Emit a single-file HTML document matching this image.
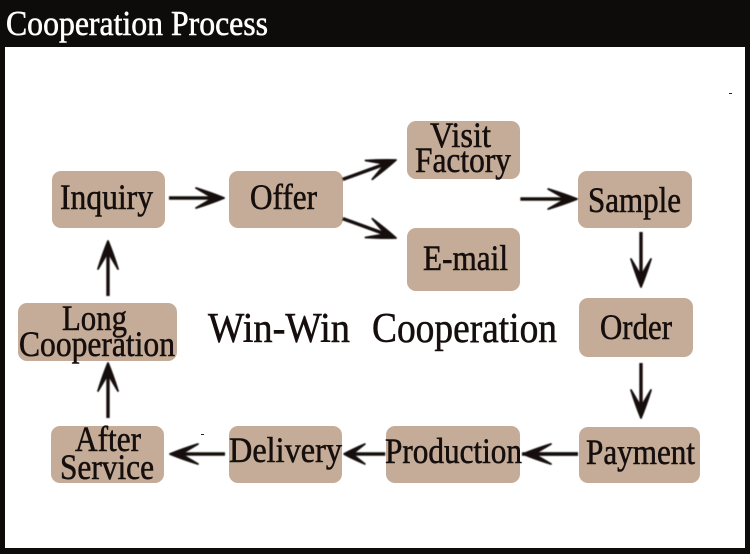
<!DOCTYPE html>
<html><head><meta charset="utf-8"><style>
html,body{margin:0;padding:0;background:#0e0c0a;width:750px;height:554px;overflow:hidden}
svg{display:block}
text{font-family:"Liberation Serif",serif;fill:#14100c;stroke:#14100c;stroke-width:.55px}
</style></head><body>
<svg width="750" height="554" viewBox="0 0 750 554" xmlns="http://www.w3.org/2000/svg">
<defs>
<g id="h"><path d="M-28,-10 Q-12,-5 0,0 Q-12,5 -28,10 Q-18,4 -11,0 Q-18,-4 -28,-10Z" fill="#14100c" stroke="#14100c" stroke-width="1.8" stroke-linejoin="round"/><path d="M-55,0H-6" stroke="#14100c" stroke-width="3.4"/></g>
<filter id="b" x="-5%" y="-5%" width="110%" height="110%"><feGaussianBlur stdDeviation="0.45"/></filter>
<filter id="t" x="-5%" y="-5%" width="110%" height="110%"><feGaussianBlur stdDeviation="0.3"/></filter>
</defs>
<rect width="750" height="554" fill="#0e0c0a"/>
<rect x="5" y="47" width="740" height="501" fill="#fff"/>
<g filter="url(#t)"><text x="6" y="35" font-size="35" textLength="262" lengthAdjust="spacingAndGlyphs" style="fill:#fff;stroke:#fff">Cooperation Process</text></g>
<g fill="#c4ac98">
<rect x="52" y="171" width="113" height="57" rx="9"/>
<rect x="229" y="171" width="114" height="57" rx="9"/>
<rect x="407" y="121" width="113" height="58" rx="9"/>
<rect x="407" y="228" width="113" height="63" rx="9"/>
<rect x="578" y="171" width="114" height="57" rx="9"/>
<rect x="579" y="298" width="114" height="59" rx="9"/>
<rect x="579" y="427" width="121" height="56" rx="9"/>
<rect x="386" y="426" width="134" height="57" rx="9"/>
<rect x="229" y="426" width="113" height="57" rx="9"/>
<rect x="51" y="426" width="113" height="57" rx="9"/>
<rect x="18" y="303" width="159" height="58" rx="9"/>
</g>
<g filter="url(#b)">
<use href="#h" transform="translate(224,198)"/>
<use href="#h" transform="translate(396,160) rotate(-20) scale(1.03,1)"/>
<use href="#h" transform="translate(396,238) rotate(20) scale(1.03,1)"/>
<use href="#h" transform="translate(577,199) scale(1.03,1)"/>
<use href="#h" transform="translate(641,287) rotate(90)"/>
<use href="#h" transform="translate(641,418) rotate(90)"/>
<use href="#h" transform="translate(523,454) rotate(180)"/>
<path d="M522,454H578" stroke="#14100c" stroke-width="3.4"/>
<use href="#h" transform="translate(344,454) rotate(180) scale(.75,1)"/>
<use href="#h" transform="translate(170,454) rotate(180)"/>
<use href="#h" transform="translate(108,363) rotate(-90)"/>
<use href="#h" transform="translate(108,241) rotate(-90)"/>
</g>
<g filter="url(#t)">
<g font-size="36">
<text x="60" y="209" textLength="93" lengthAdjust="spacingAndGlyphs">Inquiry</text>
<text x="250" y="209" textLength="67" lengthAdjust="spacingAndGlyphs">Offer</text>
<text x="430" y="147" textLength="61" lengthAdjust="spacingAndGlyphs">Visit</text>
<text x="415" y="172" textLength="96" lengthAdjust="spacingAndGlyphs">Factory</text>
<text x="423" y="270" textLength="85" lengthAdjust="spacingAndGlyphs">E-mail</text>
<text x="588" y="212" textLength="93" lengthAdjust="spacingAndGlyphs">Sample</text>
<text x="600" y="339" textLength="72" lengthAdjust="spacingAndGlyphs">Order</text>
<text x="586" y="464" textLength="109" lengthAdjust="spacingAndGlyphs">Payment</text>
<text x="385" y="463" textLength="137" lengthAdjust="spacingAndGlyphs">Production</text>
<text x="229" y="462" textLength="113" lengthAdjust="spacingAndGlyphs">Delivery</text>
<text x="75" y="451" textLength="66" lengthAdjust="spacingAndGlyphs">After</text>
<text x="60" y="479" textLength="94" lengthAdjust="spacingAndGlyphs">Service</text>
<text x="62" y="330" textLength="65" lengthAdjust="spacingAndGlyphs">Long</text>
<text x="19" y="356" textLength="156" lengthAdjust="spacingAndGlyphs">Cooperation</text>
</g>
<text x="208" y="342" font-size="42" textLength="142" lengthAdjust="spacingAndGlyphs">Win-Win</text>
<text x="372" y="342" font-size="42" textLength="185" lengthAdjust="spacingAndGlyphs">Cooperation</text>
</g>
<rect x="729" y="93" width="3" height="1" fill="#222"/>
<rect x="201" y="434" width="3" height="1" fill="#222"/>
</svg>
</body></html>
